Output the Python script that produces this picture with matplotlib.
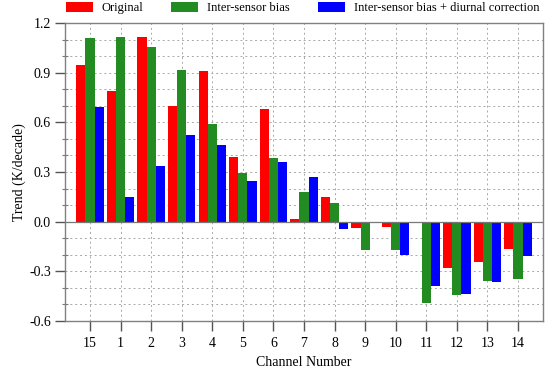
import numpy as np
import matplotlib
matplotlib.use('Agg')
import matplotlib.pyplot as plt
from matplotlib.ticker import MultipleLocator, FormatStrFormatter

channels = ['15', '1', '2', '3', '4', '5', '6', '7', '8', '9', '10', '11', '12', '13', '14']
original = [0.95, 0.79, 1.12, 0.70, 0.91, 0.39, 0.68, 0.013, 0.15, -0.037, -0.035,
            -0.007, -0.28, -0.243, -0.168]
inter_bias = [1.11, 1.12, 1.057, 0.918, 0.593, 0.292, 0.387, 0.177, 0.115, -0.17, -0.17,
              -0.495, -0.446, -0.361, -0.347]
inter_diurnal = [0.696, 0.147, 0.337, 0.526, 0.462, 0.244, 0.361, 0.272, -0.043, -0.01,
                 -0.20, -0.39, -0.436, -0.366, -0.208]
series_names = ['Original', 'Inter-sensor bias', 'Inter-sensor bias + diurnal correction']
colors = ['#ff0000', '#228b22', '#0000ff']

plt.rcParams['font.family'] = ['Liberation Serif', 'DejaVu Serif']

fig = plt.figure(figsize=(5.54, 3.68), dpi=100)
ax = fig.add_axes([0.1173, 0.1285, 0.9796 - 0.1173, 0.9367 - 0.1285])

x = np.arange(len(channels))
w = 0.3
for i, (vals, name, c) in enumerate(zip([original, inter_bias, inter_diurnal],
                                        series_names, colors)):
    ax.bar(x + (i - 1) * w, vals, width=w, color=c, label=name, zorder=3)

ax.axhline(0, color='#777777', linewidth=0.9, zorder=4)

ax.set_xlim(-0.82, 14.81)
ax.set_ylim(-0.6, 1.2)
ax.set_xticks(x)
ax.set_xticklabels(channels)
ax.yaxis.set_major_locator(MultipleLocator(0.3))
ax.yaxis.set_minor_locator(MultipleLocator(0.1))
ax.yaxis.set_major_formatter(FormatStrFormatter('%.1f'))

# dotted grid, every 0.1 on y and every channel on x
ax.grid(True, which='both', axis='y', linestyle=(0, (2, 3)), color='#a8a8a8',
        linewidth=0.7, zorder=0)
ax.grid(True, which='major', axis='x', linestyle=(0, (2, 3)), color='#a8a8a8',
        linewidth=0.7, zorder=0)

for s in ax.spines.values():
    s.set_color('#808080')
    s.set_linewidth(1.0)
ax.tick_params(which='major', direction='out', length=7, width=1.0,
               color='#555555', labelsize=10, pad=3)
ax.tick_params(axis='x', which='major', pad=5)
ax.tick_params(which='minor', direction='inout', length=4, width=0.8, color='#777777')

ax.set_xlabel('Channel Number', fontsize=10, labelpad=4)
ax.set_ylabel('Trend (K/decade)', fontsize=10, labelpad=2.5)

fig.legend(loc='center left', bbox_to_anchor=(66 / 554, 1 - 8 / 368), ncol=3,
           frameon=False, fontsize=9, handlelength=2.16, handleheight=0.8,
           columnspacing=2.2, handletextpad=0.72, borderaxespad=0.0, borderpad=0.0)

fig.savefig('out.png', dpi=100)
